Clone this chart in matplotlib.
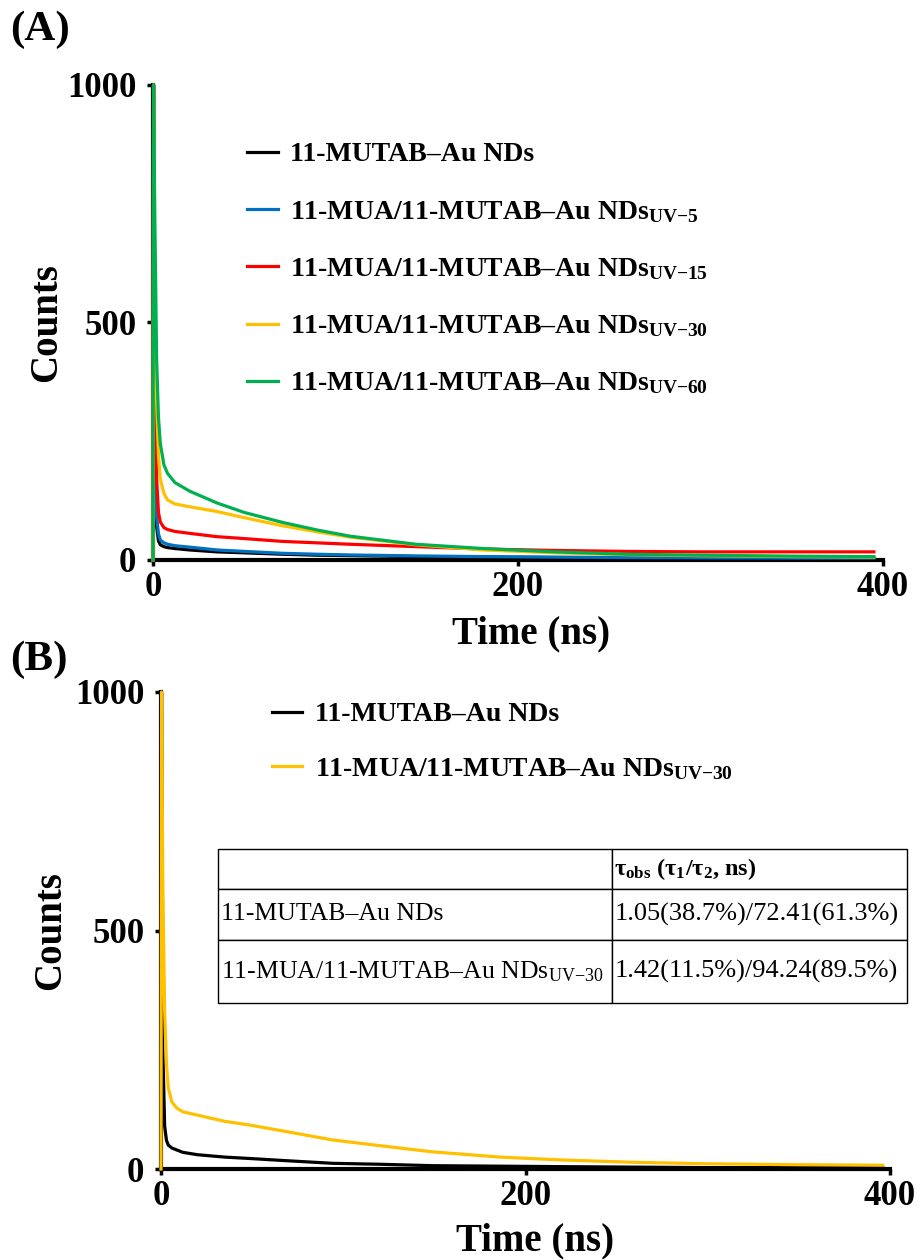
import matplotlib
matplotlib.use("Agg")
import matplotlib.pyplot as plt

plt.rcParams['font.family'] = ['Liberation Serif', 'DejaVu Serif']
plt.rcParams['mathtext.fontset'] = 'custom'
plt.rcParams['mathtext.rm'] = 'Liberation Serif'
plt.rcParams['mathtext.bf'] = 'Liberation Serif:bold'
plt.rcParams['mathtext.it'] = 'Liberation Serif:italic'

# ---- panel A data (time in ns, counts) ----
t_a = [0, 0.3, 1, 2, 3, 4, 6, 8, 12, 20, 35, 50, 71, 90, 108, 144, 181, 220, 260, 300, 350, 395]
mutab_a = [0, 1000, 200, 70, 40, 32, 28, 26, 24, 21, 17, 15, 12, 10, 9, 7, 6, 5, 4, 3.5, 3, 3]
uv5_a = [0, 1000, 250, 90, 55, 42, 36, 33, 30, 27, 21, 18, 14, 12, 10.5, 8.5, 7, 6, 5, 4.5, 4, 4]
uv15_a = [0, 1000, 400, 170, 100, 80, 68, 64, 60, 56, 49, 45, 39, 36, 33, 28, 23, 20, 18, 17, 17, 17]
uv30_a = [0, 1000, 600, 330, 220, 170, 140, 126, 118, 112, 102, 89, 72, 59, 48, 32, 21, 15, 11, 9, 7, 6]
uv60_a = [0, 1000, 720, 420, 300, 245, 200, 182, 163, 145, 120, 100, 79, 63, 50, 33, 24, 17, 12, 10, 8, 7]

# ---- panel B data ----
t_b = [0, 0.3, 1, 2, 3, 4, 6, 8.6, 12, 20, 35, 49, 71, 94, 120, 149, 186, 220, 260, 300, 350, 396]
mutab_b = [0, 1000, 250, 90, 60, 50, 44, 40, 35, 30, 25, 22, 17, 12, 10, 7, 6, 5, 4, 3, 3, 3]
uv30_b = [0, 1000, 600, 330, 220, 170, 140, 128, 120, 113, 100, 92, 77, 61, 49, 36, 25, 19, 14, 11, 9, 8]

labels_a = [
    "11-MUTAB\u2013Au NDs",
    "11-MUA/11-MUTAB\u2013Au NDs$_{\\mathbf{UV{-}5}}$",
    "11-MUA/11-MUTAB\u2013Au NDs$_{\\mathbf{UV{-}15}}$",
    "11-MUA/11-MUTAB\u2013Au NDs$_{\\mathbf{UV{-}30}}$",
    "11-MUA/11-MUTAB\u2013Au NDs$_{\\mathbf{UV{-}60}}$",
]
colors_a = ['#000000', '#0070C0', '#FF0000', '#FFC000', '#00B050']

table_rows = ["", "11-MUTAB\u2013Au NDs", "11-MUA/11-MUTAB\u2013Au NDs$_{\\mathrm{UV{-}30}}$"]
table_vals = ["\u03c4$_{\\mathbf{obs}}$ (\u03c4$_{\\mathbf{1}}$/\u03c4$_{\\mathbf{2}}$, ns)",
              "1.05(38.7%)/72.41(61.3%)",
              "1.42(11.5%)/94.24(89.5%)"]


def style_axes(ax):
    for side in ['top', 'right']:
        ax.spines[side].set_visible(False)
    for side in ['left', 'bottom']:
        ax.spines[side].set_linewidth(3)
    ax.set_xlim(0, 400)
    ax.set_ylim(0, 1000)
    ax.set_xticks([0, 200, 400])
    ax.set_yticks([0, 500, 1000])
    ax.tick_params(axis='both', length=4, width=2.5, labelsize=25)
    ax.tick_params(axis='y', pad=8)
    ax.tick_params(axis='x', pad=4)
    for lab in ax.get_xticklabels() + ax.get_yticklabels():
        lab.set_fontweight('bold')


fig = plt.figure(figsize=(9.2, 12.6), dpi=100)

# panel A
ax1 = fig.add_axes([0.1663, 0.5556, 0.7935, 0.3770])
series_a = [mutab_a, uv5_a, uv15_a, uv30_a, uv60_a]
for y, c, lab in zip(series_a, colors_a, labels_a):
    ax1.plot(t_a, y, color=c, lw=2.3, label=lab, clip_on=False, zorder=3)
style_axes(ax1)
ax1.set_xlabel("Time (ns)", fontsize=28, fontweight='bold')
ax1.set_ylabel("Counts", fontsize=28, fontweight='bold')
ax1.xaxis.set_label_coords(0.518, -0.116)
ax1.yaxis.set_label_coords(-0.121, 0.5)
ax1.legend(loc='upper left', bbox_to_anchor=(0.129, 0.88), frameon=False,
           prop={'weight': 'bold', 'size': 20}, handlelength=1.1,
           handletextpad=0.45, labelspacing=1.13, borderpad=0, borderaxespad=0)

# panel B
ax2 = fig.add_axes([0.1750, 0.0722, 0.7924, 0.3786])
ax2.plot(t_b, mutab_b, color='#000000', lw=2.3, label=labels_a[0], clip_on=False, zorder=3)
ax2.plot(t_b, uv30_b, color='#FFC000', lw=2.3, label=labels_a[3], clip_on=False, zorder=3)
style_axes(ax2)
ax2.set_xlabel("Time (ns)", fontsize=28, fontweight='bold')
ax2.set_ylabel("Counts", fontsize=28, fontweight='bold')
ax2.xaxis.set_label_coords(0.513, -0.111)
ax2.yaxis.set_label_coords(-0.126, 0.5)
ax2.legend(loc='upper left', bbox_to_anchor=(0.152, 0.979), frameon=False,
           prop={'weight': 'bold', 'size': 20}, handlelength=1.1,
           handletextpad=0.45, labelspacing=1.03, borderpad=0, borderaxespad=0)

# table with lifetimes
cells = [[r, v] for r, v in zip(table_rows, table_vals)]
tab = ax2.table(cellText=cells, colWidths=[0.572, 0.428], cellLoc='left',
                bbox=[0.0782, 0.348, 0.945, 0.323])
tab.auto_set_font_size(False)
row_h = [40, 51, 63]
for (r, c), cell in tab.get_celld().items():
    cell.set_height(row_h[r])
    cell.set_linewidth(1.0)
    cell.PAD = 0.008
    cell.get_text().set_fontsize(18.5 if c == 0 else 19)
    if r == 0:
        cell.get_text().set_fontweight('bold')
        cell.get_text().set_fontsize(17.5)

fig.text(0.011, 0.992, "(A)", fontsize=31, fontweight='bold', va='top', ha='left')
fig.text(0.011, 0.492, "(B)", fontsize=31, fontweight='bold', va='top', ha='left')

fig.savefig("out.png", dpi=100)
